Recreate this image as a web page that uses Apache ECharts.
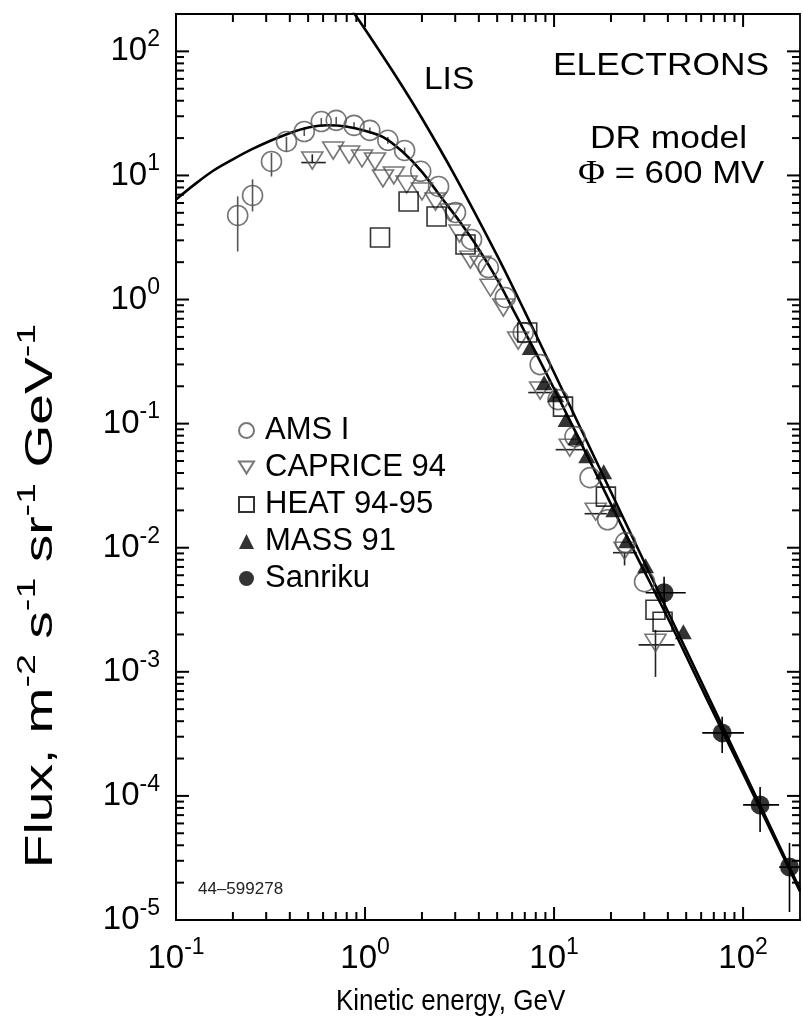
<!DOCTYPE html>
<html><head><meta charset="utf-8">
<script src="https://cdn.jsdelivr.net/npm/echarts@6/dist/echarts.min.js"></script>
<style>html,body{margin:0;padding:0;background:#fff}#c{width:803px;height:1020px}</style>
</head><body><div id="c"></div>
<script>
// ---- data ----
const amsE = [0.212,0.254,0.320,0.384,0.477,0.587,0.704,0.875,1.06,1.32,1.62,1.97,2.45,3.01,3.66,4.49,5.52,6.87,8.44,10.5,12.9,15.5,19.2,23.9,30.1];
const amsF = [4.76,6.90,12.97,18.8,22.6,27.2,27.8,25.3,23.1,19.2,15.9,10.8,8.15,5.03,3.05,1.81,1.04,0.542,0.299,0.156,0.0786,0.0367,0.0168,0.0110,0.00532];
const amsYLo = [2.44,5.13,9.8,15.6,20.8,25.5,26.0,23.8,21.8,18.0,15.0];
const amsYHi = [6.78,9.3,15.2,20.5,24.4,29.0,29.6,26.8,24.4,20.4,16.8];

const capE = [0.526,0.679,0.824,0.964,1.129,1.244,1.42,1.66,2.0,2.36,2.84,3.16,3.61,4.08,4.61,5.39,6.46,8.44,12.1,16.6,23.6,34.4];
const capF = [12.7,15.3,14.2,13.2,12.5,9.12,9.64,8.15,7.16,5.94,4.85,3.28,2.02,1.84,1.20,0.83,0.450,0.178,0.0617,0.0188,0.00912,0.00165];
const capXLo = [0.46,null,null,null,null,null,null,null,null,null,null,null,null,null,null,null,null,7.3,10.2,14.5,20.5,28.0];
const capXHi = [0.62,null,null,null,null,null,null,null,null,null,null,null,null,null,null,null,null,9.75,14.4,19.0,27.4,43.4];
const capYLo = [null,null,null,null,null,null,null,null,null,null,null,null,null,null,null,null,null,null,null,null,0.0072,0.00091];
const capYHi = [14.8,null,null,null,null,null,null,null,null,null,null,null,null,null,null,null,null,null,null,null,null,0.00218];

const heatE = [1.20,1.70,2.39,3.40,7.21,11.15,18.8,34.4,37.5];
const heatF = [3.16,6.17,4.67,2.78,0.542,0.137,0.0258,0.00316,0.00253];

const massE = [7.48,8.86,10.2,11.57,13.05,14.9,18.3,20.7,24.2,30.5,48.3];
const massF = [0.410,0.214,0.171,0.108,0.0771,0.0552,0.041,0.0202,0.0114,0.00716,0.0021];

const sanE = [38.2,77.5,123,176];
const sanF = [4.34e-3,3.22e-4,8.46e-5,2.67e-5];
const sanXLo = [30.5,60.8,100,155];
const sanXHi = [49.7,101,155,200];
const sanYLo = [3.16e-3,2.22e-4,5.13e-5,1.16e-5];
const sanYHi = [5.83e-3,4.34e-4,1.18e-4,4.18e-5];

// model curves
const lisE = [0.8,1,1.5,2,3,5,7,10,15,20,30,50,100,200];
const lisF = [247,150.6,58.8,28.9,9.84,2.26,0.80,0.258,0.0704,0.0281,7.67e-3,1.50e-3,1.63e-4,1.77e-5];
const modE = [0.1,0.126,0.158,0.2,0.251,0.316,0.398,0.501,0.631,0.794,1.0,1.26,1.58,2.0,2.51,3.16,3.98,5.01,6.31,7.94,10,15.8,25.1,39.8,63.1,100,200];
const modF = [6.40,8.51,10.96,13.49,16.2,19.05,21.9,24.3,25.4,24.8,22.9,20.2,15.5,10.7,6.76,4.27,2.57,1.445,0.741,0.380,0.191,0.0468,0.0111,2.75e-3,6.4e-4,1.52e-4,1.70e-5];

// axes
const xMin = 0.1, xMax = 200, yMin = 1e-5, yMax = 200;
const minorMant = [2,3,4,5,6,7,8,9];
const xDecades = [0.1,1,10];
const xMajor = [0.1,1,10,100];
const yDecades = [1e-5,1e-4,1e-3,1e-2,1e-1,1,10];
const yMajor = [1e-5,1e-4,1e-3,1e-2,1e-1,1,10,100];
const legendNames = ['AMS I','CAPRICE 94','HEAT 94-95','MASS 91','Sanriku'];

// ---- chart ----
const FONT = '"Liberation Sans", Arial, Helvetica, sans-serif';
const TICK = '#000';
const pair = (xs, ys) => xs.map((x, i) => [x, ys[i]]);
// [value, 1 or value, tick length]
const xTickData = [];
xDecades.forEach(d => minorMant.forEach(m => xTickData.push([d * m, 1, 8])));
xMajor.forEach(v => xTickData.push([v, 1, 13]));
const yTickData = [];
yDecades.forEach(d => minorMant.forEach(m => yTickData.push([1, d * m, 8])));
yMajor.forEach(v => yTickData.push([1, v, 13]));

function errData(xs, ys, xlo, xhi, ylo, yhi) {
  const out = [];
  xs.forEach((x, i) => {
    const a = xlo && xlo[i] != null ? xlo[i] : x, b = xhi && xhi[i] != null ? xhi[i] : x;
    const c = ylo && ylo[i] != null ? ylo[i] : ys[i], d = yhi && yhi[i] != null ? yhi[i] : ys[i];
    if (a !== x || b !== x || c !== ys[i] || d !== ys[i]) out.push([x, ys[i], a, b, c, d]);
  });
  return out;
}
function errRender(color, w) {
  return function (params, api) {
    const x = api.value(0), y = api.value(1);
    const p0 = api.coord([api.value(2), y]), p1 = api.coord([api.value(3), y]);
    const q0 = api.coord([x, api.value(4)]), q1 = api.coord([x, api.value(5)]);
    const st = { stroke: color, lineWidth: w };
    const ch = [];
    if (Math.abs(p1[0] - p0[0]) > 0.5) ch.push({ type: 'line', shape: { x1: p0[0], y1: p0[1], x2: p1[0], y2: p1[1] }, style: st });
    if (Math.abs(q1[1] - q0[1]) > 0.5) ch.push({ type: 'line', shape: { x1: q0[0], y1: q0[1], x2: q1[0], y2: q1[1] }, style: st });
    return { type: 'group', children: ch };
  };
}
// tick marks (inward) on all four sides of the frame
function tickRender(dim) {
  return function (params, api) {
    const L = api.value(2), W = 2;
    if (dim === 'x') {
      const v = api.value(0);
      const b = api.coord([v, yMin]), t = api.coord([v, yMax]);
      return { type: 'group', children: [
        { type: 'rect', shape: { x: b[0] - W / 2, y: b[1] - L, width: W, height: L }, style: { fill: TICK } },
        { type: 'rect', shape: { x: t[0] - W / 2, y: t[1], width: W, height: L }, style: { fill: TICK } }
      ] };
    }
    const v = api.value(1);
    const l = api.coord([xMin, v]), r = api.coord([xMax, v]);
    return { type: 'group', children: [
      { type: 'rect', shape: { x: l[0], y: l[1] - W / 2, width: L, height: W }, style: { fill: TICK } },
      { type: 'rect', shape: { x: r[0] - L, y: r[1] - W / 2, width: L, height: W }, style: { fill: TICK } }
    ] };
  };
}
function powLabel(v) {
  const l = Math.log10(v), e = Math.round(l);
  if (Math.abs(l - e) > 1e-6) return '';
  return '{b|10}{s|' + e + '}';
}
const labelRich = {
  b: { fontSize: 33, fontFamily: FONT, color: '#000', lineHeight: 46 },
  s: { fontSize: 23, fontFamily: FONT, color: '#000', lineHeight: 24, verticalAlign: 'top' }
};
const axLine = { show: true, lineStyle: { color: '#000', width: 1.8 } };

const DOWN_TRI = 'path://M0,0 L20,0 L10,16 Z';
const option = {
  animation: false,
  grid: { left: 176, right: 1, top: 14, bottom: 100, show: true, borderColor: '#000', borderWidth: 1.8, backgroundColor: 'transparent' },
  xAxis: { type: 'log', min: xMin, max: xMax, axisLine: axLine, axisTick: { show: false }, splitLine: { show: false },
      axisLabel: { margin: 16, formatter: powLabel, rich: labelRich, showMinLabel: true, showMaxLabel: true } },
  yAxis: { type: 'log', min: yMin, max: yMax, axisLine: axLine, axisTick: { show: false }, splitLine: { show: false },
      axisLabel: { margin: 16, formatter: powLabel, rich: labelRich, showMinLabel: true, showMaxLabel: true } },
  legend: {
    orient: 'vertical', left: 233, top: 410, itemGap: 6, itemWidth: 15, itemHeight: 15,
    textStyle: { fontFamily: FONT, fontSize: 31, color: '#000', padding: [0, 0, 0, 6] },
    data: legendNames, selectedMode: false
  },
  series: [
    { type: 'custom', name: 'xTickMarks', data: xTickData, renderItem: tickRender('x'), z: 10 },
    { type: 'custom', name: 'yTickMarks', data: yTickData, renderItem: tickRender('y'), z: 10 },
    { type: 'line', name: 'LIS', data: pair(lisE, lisF), showSymbol: false, smooth: 0.35, lineStyle: { color: '#000', width: 2.6 }, z: 3 },
    { type: 'line', name: 'DR', data: pair(modE, modF), showSymbol: false, smooth: 0.35, lineStyle: { color: '#000', width: 2.6 }, z: 3 },
    { type: 'custom', name: 'amsErr', data: errData(amsE, amsF, null, null, amsYLo, amsYHi), renderItem: errRender('#555', 1.6), z: 2 },
    { type: 'custom', name: 'capErr', data: errData(capE, capF, capXLo, capXHi, capYLo, capYHi), renderItem: errRender('#222', 1.6), z: 2 },
    { type: 'custom', name: 'sanErr', data: errData(sanE, sanF, sanXLo, sanXHi, sanYLo, sanYHi), renderItem: errRender('#000', 1.6), z: 2 },
    { type: 'scatter', name: 'AMS I', data: pair(amsE, amsF), symbol: 'circle', symbolSize: 20,
      itemStyle: { color: 'rgba(255,255,255,0)', borderColor: '#555', borderWidth: 1.6 }, z: 4 },
    { type: 'scatter', name: 'CAPRICE 94', data: pair(capE, capF), symbol: DOWN_TRI, symbolSize: [21, 17], symbolOffset: [0, -2],
      itemStyle: { color: 'rgba(255,255,255,0)', borderColor: '#555', borderWidth: 1.6 }, z: 4 },
    { type: 'scatter', name: 'HEAT 94-95', data: pair(heatE, heatF), symbol: 'rect', symbolSize: 19,
      itemStyle: { color: 'rgba(255,255,255,0)', borderColor: '#000', borderWidth: 1.6 }, z: 4 },
    { type: 'scatter', name: 'MASS 91', data: pair(massE, massF), symbol: 'triangle', symbolSize: [17, 15],
      itemStyle: { color: '#000' }, z: 5 },
    { type: 'scatter', name: 'Sanriku', data: pair(sanE, sanF), symbol: 'circle', symbolSize: 19,
      itemStyle: { color: '#000' }, z: 5 }
  ],
  graphic: [
    { type: 'text', left: 424, top: 65, scaleX: 1.08, style: { text: 'LIS', font: '31px ' + FONT, fill: '#000' } },
    { type: 'text', left: 553, top: 51, scaleX: 1.14, style: { text: 'ELECTRONS', font: '31px ' + FONT, fill: '#000' } },
    { type: 'text', left: 590, top: 124, scaleX: 1.14, style: { text: 'DR model', font: '31px ' + FONT, fill: '#000' } },
    { type: 'text', left: 578, top: 158, scaleX: 1.12, style: { text: '{p|Φ} = 600 MV', font: '31px ' + FONT, fill: '#000',
        rich: { p: { fontFamily: '"Liberation Serif", serif', fontSize: 33, color: '#000' } } } },
    { type: 'text', left: 198, top: 881, style: { text: '44–599278', font: '17px ' + FONT, fill: '#222' } },
    { type: 'text', left: 336, top: 987, scaleY: 1.15, style: { text: 'Kinetic energy, GeV', font: '26px ' + FONT, fill: '#000' } },
    { type: 'text', x: 42, y: 596, rotation: Math.PI / 2, scaleX: 1.45,
      style: { text: 'Flux, m{s|-2} s{s|-1} sr{s|-1} GeV{s|-1}', font: '38px ' + FONT, fill: '#000',
        align: 'center', verticalAlign: 'middle', textAlign: 'center', textVerticalAlign: 'middle', lineHeight: 54,
        rich: { s: { fontSize: 26, fontFamily: FONT, color: '#000', lineHeight: 28, verticalAlign: 'top' } } } }
  ]
};
const chart = echarts.init(document.getElementById('c'), null, { renderer: 'canvas' });
chart.setOption(option);
</script>
</body></html>
